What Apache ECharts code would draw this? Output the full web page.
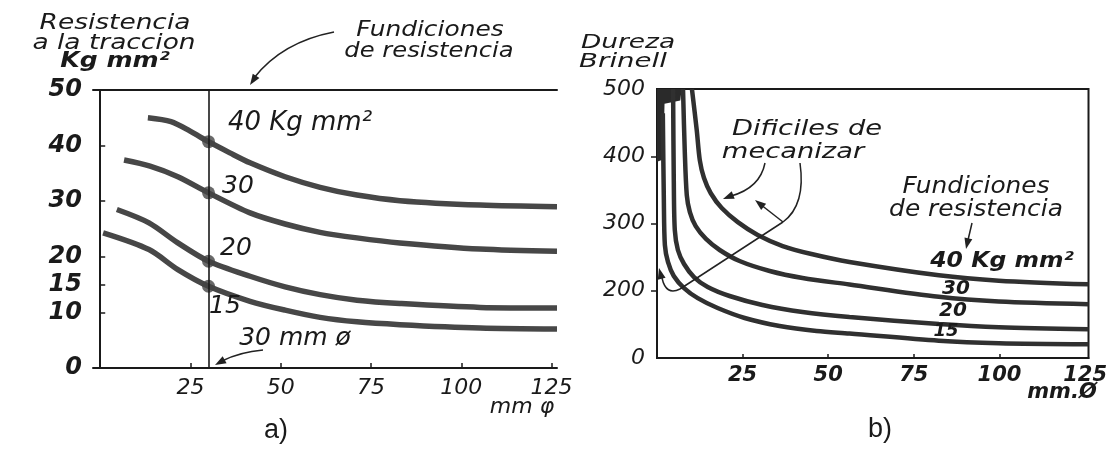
<!DOCTYPE html>
<html><head><meta charset="utf-8">
<script src="https://cdn.jsdelivr.net/npm/echarts@6/dist/echarts.min.js"></script>
<style>html,body{margin:0;padding:0;background:#fff}#c{width:1110px;height:449px}</style>
</head><body><div id="c"></div>
<script>
// ---------- Panel a) : tensile strength (kg/mm2) vs diameter (mm) ----------
const xTicksA = [25, 50, 75, 100, 125];
const yTicksA = [0, 10, 15, 20, 30, 40, 50];
const refXA = 30;                       // 30 mm reference line
const a40 = [[13.2,45.0],[19.6,44.3],[24.9,42.6],[30.0,40.7],[35.9,38.7],[41.5,36.9],[51.2,34.4],[60.9,32.5],[71.1,31.1],[83.0,30.1],[105.2,29.3],[126.5,29.0]];
const a30 = [[6.6,37.4],[13.8,36.3],[21.5,34.4],[30.0,31.5],[41.5,27.9],[51.2,25.9],[60.9,24.4],[71.1,23.4],[83.0,22.5],[105.2,21.4],[126.5,21.0]];
const a20 = [[4.6,28.5],[13.5,26.1],[21.5,22.5],[30.0,19.2],[41.5,16.5],[51.2,14.6],[60.9,13.2],[71.1,12.2],[83.0,11.6],[105.2,10.9],[126.5,10.8]];
const a15 = [[0.8,24.3],[13.5,21.3],[21.5,17.7],[30.0,14.7],[41.5,12.0],[51.2,10.4],[60.9,9.1],[71.1,8.3],[83.0,7.8],[105.2,7.2],[126.5,7.0]];
const dotsA = [40.7, 31.5, 19.2, 14.7];

// ---------- Panel b) : Brinell hardness vs diameter (mm) ----------
const xTicksB = [25, 50, 75, 100, 125];
const yTicksB = [100, 200, 300, 400, 500];
const yTickLabelsB = ['0', '200', '300', '400', '500'];
const b40 = [[10.2,500],[11.6,439],[12.5,394],[13.7,368],[15.7,345],[18.9,323],[23.6,302],[29.4,283],[36.7,266.5],[45.1,254.6],[56.2,242.8],[82.3,223],[99.8,215],[126,209.5]];
const b30 = [[7.6,500],[8.1,409],[8.7,342],[9.6,317],[11.3,296],[14.3,277],[18.3,260.6],[24.1,244.2],[32.9,229.4],[42.5,219],[56.2,209.3],[82.3,191],[99.8,184],[126,180]];
const b20 = [[4.7,500],[4.9,365],[5.2,290],[6.1,260.6],[7.9,239.8],[10.8,220.4],[14.8,205.6],[21.2,192.2],[30.8,178.8],[42.5,168.4],[56.2,161],[82.3,150.6],[99.8,145.7],[126,142.7]];
const b15 = [[1.7,464],[2.0,335],[2.3,268],[3.2,242.8],[4.9,222],[7.9,204],[11.9,189],[17.7,174.3],[25.6,159.5],[35.8,147.6],[46.6,140.1],[56.2,136.4],[82.3,125.7],[99.8,122],[126,120.4]];
const blockB = [[0,500],[7.2,500],[6.8,483],[2.2,478],[1.8,395],[0,392]];

const INK = '#1a1a1a';
const FF = '"DejaVu Sans", sans-serif';

function txt(x, y, s, size, o) {
  o = o || {};
  const font = (o.it === false ? '' : 'italic ') + (o.bold ? 'bold ' : '') + size + 'px ' + (o.ff || FF);
  return { type: 'text', x: x, y: y, scaleX: o.sx || 1, silent: true, z: 100,
    style: { text: s, x: 0, y: 0, font: font, fill: INK,
      textAlign: 'center', textVerticalAlign: 'middle', align: 'center', verticalAlign: 'middle' } };
}
function head(tx, ty, fx, fy, len, w) {
  const dx = tx - fx, dy = ty - fy, L = Math.hypot(dx, dy), ux = dx / L, uy = dy / L;
  const bx = tx - ux * len, by = ty - uy * len;
  return { type: 'polygon', silent: true, z: 100, shape: { points: [[tx, ty], [bx - uy * w, by + ux * w], [bx + uy * w, by - ux * w]] }, style: { fill: '#222' } };
}
function curve(x1, y1, cx, cy, x2, y2, lw) {
  return { type: 'bezierCurve', silent: true, z: 100, shape: { x1: x1, y1: y1, cpx1: cx, cpy1: cy, x2: x2, y2: y2 }, style: { stroke: '#222', lineWidth: lw || 1.5, fill: null } };
}
function seg(x1, y1, x2, y2, lw) {
  return { type: 'line', silent: true, z: 100, shape: { x1: x1, y1: y1, x2: x2, y2: y2 }, style: { stroke: '#222', lineWidth: lw || 1.5 } };
}

const axisLine = { show: true, lineStyle: { color: INK, width: 2 } };
const lblA = { fontFamily: FF, fontStyle: 'italic', fontSize: 22, color: INK };
const lblB = { fontFamily: FF, fontStyle: 'italic', fontSize: 21, color: INK };

function lineSeries(data, xi, lw, color) {
  return { type: 'line', xAxisIndex: xi, yAxisIndex: xi, data: data, smooth: 0.3, showSymbol: false, symbol: 'none',
    lineStyle: { width: lw, color: color }, silent: true, z: 3 };
}

const seriesA = [a40, a30, a20, a15].map(d => lineSeries(d, 0, 5.5, '#474747'));
seriesA[0].markLine = { symbol: 'none', silent: true, label: { show: false },
  lineStyle: { color: INK, width: 1.6, type: 'solid' }, data: [{ xAxis: refXA }] };
const seriesB = [b40, b30, b20, b15].map(d => lineSeries(d, 1, 4.5, '#303030'));

const option = {
  animation: false,
  backgroundColor: '#fff',
  grid: [
    { left: 93, top: 90, width: 464, height: 278 },
    { left: 657, top: 89, width: 433, height: 269, show: true, borderColor: INK, borderWidth: 2, backgroundColor: 'transparent' }
  ],
  xAxis: [
    { type: 'value', gridIndex: 0, min: -2, max: 126.5, axisLine: axisLine, splitLine: { show: false },
      axisTick: { inside: true, length: 5, customValues: xTicksA, lineStyle: { color: INK, width: 1.5 } },
      axisLabel: Object.assign({ margin: 9, customValues: xTicksA }, lblA) },
    { type: 'value', gridIndex: 1, min: 0, max: 126, axisLine: axisLine, splitLine: { show: false },
      axisTick: { inside: true, length: 4, customValues: xTicksB.slice(0, 4), lineStyle: { color: INK, width: 1.5 } },
      axisLabel: Object.assign({ margin: 7, customValues: xTicksB, fontWeight: 'bold' }, lblB) },
    { type: 'value', gridIndex: 0, position: 'top', min: -2, max: 126.5, axisLine: axisLine,
      axisTick: { show: false }, axisLabel: { show: false }, splitLine: { show: false } }
  ],
  yAxis: [
    { type: 'value', gridIndex: 0, min: 0, max: 50, axisLine: axisLine, splitLine: { show: false },
      axisTick: { inside: true, length: 5, customValues: yTicksA.slice(1, 6), lineStyle: { color: INK, width: 1.5 } },
      axisLabel: Object.assign({ margin: 11, customValues: yTicksA, fontWeight: 'bold' }, lblA, { fontSize: 24 }) },
    { type: 'value', gridIndex: 1, min: 100, max: 500, axisLine: axisLine, splitLine: { show: false },
      axisTick: { inside: false, length: 6, customValues: yTicksB.slice(1, 4), lineStyle: { color: INK, width: 1.5 } },
      axisLabel: Object.assign({ margin: 12, customValues: yTicksB,
        formatter: v => yTickLabelsB[yTicksB.indexOf(v)] }, lblB, { fontSize: 22 }) }
  ],
  series: seriesA.concat([
    { type: 'scatter', xAxisIndex: 0, yAxisIndex: 0, data: dotsA.map(v => [refXA, v]), symbolSize: 13,
      itemStyle: { color: '#444' }, silent: true, z: 4 },
    { type: 'custom', xAxisIndex: 1, yAxisIndex: 1, silent: true, z: 2, data: [0],
      renderItem: (p, api) => ({ type: 'polygon', shape: { points: blockB.map(q => api.coord(q)) }, style: { fill: '#2a2a2a' } }) }
  ]).concat(seriesB),
  graphic: [
    // panel a texts
    txt(115, 23, 'Resistencia', 22, { sx: 1.2 }),
    txt(114, 43, 'a la traccion', 22, { sx: 1.2 }),
    txt(115, 61, 'Kg mm²', 22, { sx: 1.14, bold: true }),
    txt(430, 30, 'Fundiciones', 22, { sx: 1.13 }),
    txt(429, 51, 'de resistencia', 22, { sx: 1.1 }),
    txt(300, 123, '40 Kg mm²', 26),
    txt(238, 186, '30', 25),
    txt(236, 248, '20', 25),
    txt(225, 306, '15', 25),
    txt(295, 338, '30 mm ø', 25),
    txt(522, 407, 'mm φ', 22),
    txt(276, 431, 'a)', 27, { it: false, ff: '"Liberation Sans", Arial, sans-serif' }),
    curve(334, 32, 282, 42, 254, 78), head(250, 85, 256, 76, 11, 4),
    curve(263, 350, 240, 352, 222, 361), head(215, 365, 224, 360, 11, 4),
    // panel b texts
    txt(628, 43, 'Dureza', 20, { sx: 1.32 }),
    txt(623, 62, 'Brinell', 20, { sx: 1.38 }),
    txt(807, 130, 'Dificiles de', 21, { sx: 1.3 }),
    txt(793, 153, 'mecanizar', 21, { sx: 1.3 }),
    txt(976, 187, 'Fundiciones', 23, { sx: 1.08 }),
    txt(976, 210, 'de resistencia', 23, { sx: 1.08 }),
    txt(1002, 262, '40 Kg mm²', 21, { sx: 1.12, bold: true }),
    txt(956, 289, '30', 20, { bold: true }),
    txt(953, 311, '20', 20, { bold: true }),
    txt(946, 331, '15', 18, { bold: true }),
    txt(1062, 393, 'mm.Ø', 21, { bold: true }),
    txt(880, 430, 'b)', 27, { it: false, ff: '"Liberation Sans", Arial, sans-serif' }),
    curve(765, 163, 760, 188, 731, 196), head(723, 199, 733, 195, 11, 4),
    curve(800, 163, 806, 205, 783, 222),
    seg(783, 222, 680, 289), seg(783, 222, 760, 204), head(755, 200, 783, 222, 11, 4),
    curve(680, 289, 666, 296, 662, 278), head(659, 268, 662, 280, 11, 4),
    seg(972, 223, 968, 240), head(966, 249, 968, 240, 11, 4)
  ]
};
echarts.init(document.getElementById('c'), null, { renderer: 'canvas' }).setOption(option);
</script>
</body></html>
